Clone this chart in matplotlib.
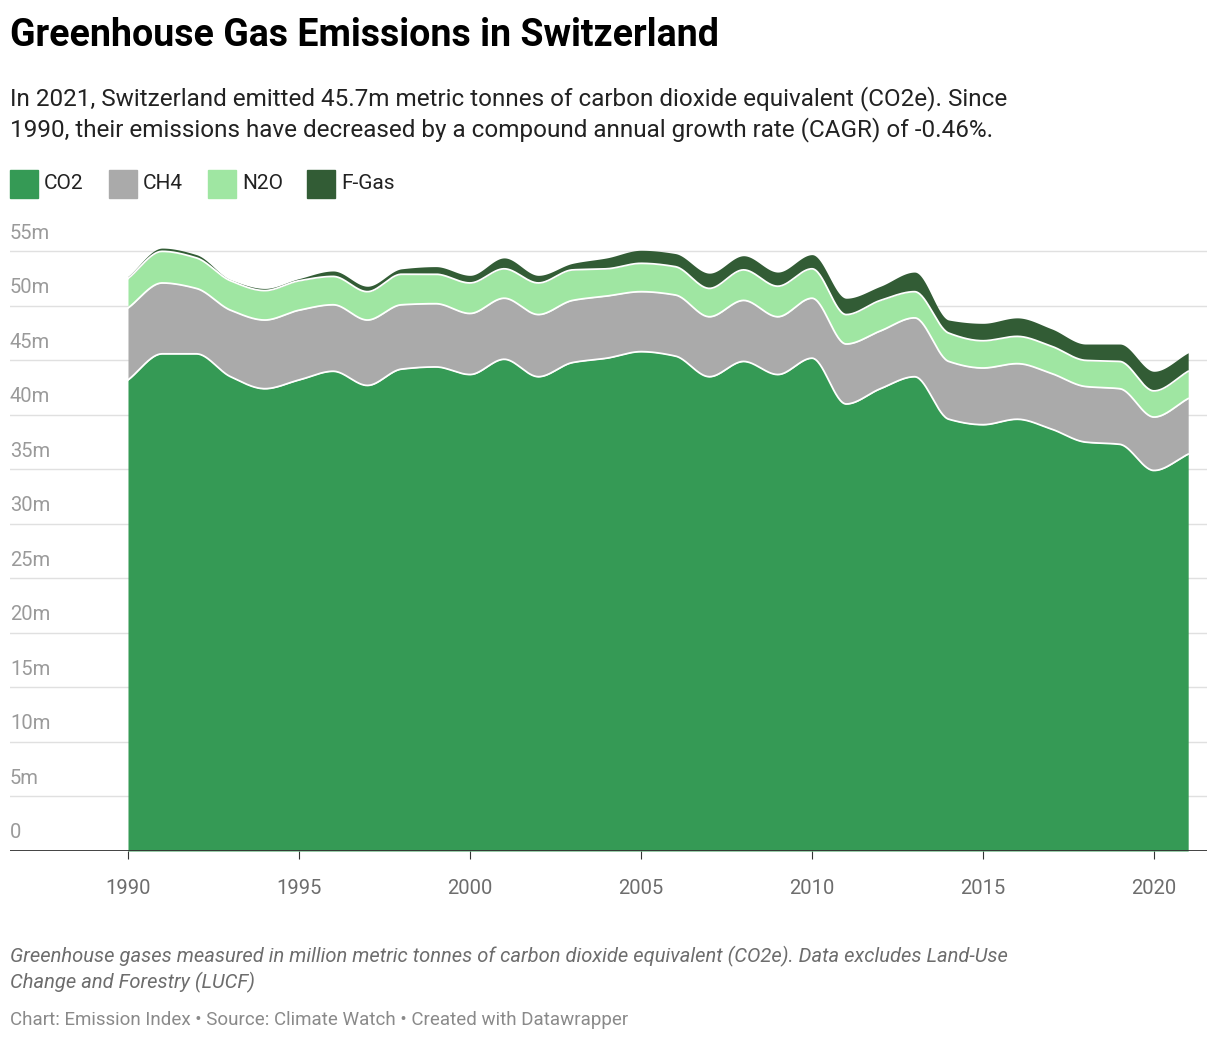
import numpy as np
import matplotlib
matplotlib.use("Agg")
import matplotlib.pyplot as plt

years = list(range(1990, 2022))
co2_top = [43.2,45.6,45.6,43.5,42.4,43.2,44.0,42.7,44.2,44.4,43.7,45.1,43.5,44.8,45.2,45.8,45.4,43.5,44.9,43.7,45.2,41.0,42.4,43.5,39.6,39.1,39.6,38.7,37.5,37.3,34.9,36.4]
ch4_top = [49.8,52.1,51.6,49.6,48.7,49.6,50.1,48.7,50.1,50.2,49.3,50.7,49.2,50.5,50.9,51.3,51.0,49.0,50.5,49.0,50.7,46.5,47.7,48.9,44.9,44.3,44.7,43.8,42.6,42.4,39.8,41.5]
n2o_top = [52.5,55.0,54.4,52.3,51.4,52.3,52.7,51.3,52.9,52.9,52.1,53.4,52.1,53.3,53.4,53.9,53.6,51.6,53.3,51.8,53.4,49.2,50.5,51.3,47.5,46.8,47.2,46.3,45.0,44.9,42.2,44.0]
fgas_top = [52.7,55.3,54.7,52.4,51.6,52.5,53.2,51.8,53.4,53.6,52.8,54.4,52.8,53.9,54.4,55.1,54.8,53.0,54.6,53.1,54.7,50.7,51.8,53.1,48.7,48.4,48.9,47.9,46.5,46.5,44.0,45.7]
co2 = np.array(co2_top)
ch4 = np.array(ch4_top) - co2
n2o = np.array(n2o_top) - np.array(ch4_top)
fgas = np.array(fgas_top) - np.array(n2o_top)
names = ["CO2", "CH4", "N2O", "F-Gas"]
colors = ["#359a55", "#aaaaaa", "#9fe6a2", "#325c35"]

def monotone(x, y, xs):
    x = np.asarray(x, float); y = np.asarray(y, float)
    h = np.diff(x); d = np.diff(y) / h
    m = np.zeros_like(y)
    m[0], m[-1] = d[0], d[-1]
    for i in range(1, len(y) - 1):
        if d[i-1] * d[i] > 0:
            m[i] = 3 * (h[i-1] + h[i]) / ((2*h[i] + h[i-1]) / d[i-1] + (h[i] + 2*h[i-1]) / d[i])
    idx = np.clip(np.searchsorted(x, xs) - 1, 0, len(x) - 2)
    t = (xs - x[idx]) / h[idx]
    h00 = 2*t**3 - 3*t**2 + 1; h10 = t**3 - 2*t**2 + t
    h01 = -2*t**3 + 3*t**2; h11 = t**3 - t**2
    return h00*y[idx] + h10*h[idx]*m[idx] + h01*y[idx+1] + h11*h[idx]*m[idx+1]

plt.rcParams['font.family'] = ['Roboto', 'DejaVu Sans']
fig = plt.figure(figsize=(12.2, 10.44), dpi=100)
W, H = 1220, 1044
ax = fig.add_axes([10/W, 1 - 851/H, 1197/W, (851-235)/H])

xs = np.linspace(1990, 2021, 1000)
tops = [co2_top, ch4_top, n2o_top, fgas_top]
prev = np.zeros_like(xs)
for t, c in zip(tops, colors):
    cur = monotone(years, t, xs)
    ax.fill_between(xs, prev, cur, color=c, lw=0, zorder=2)
    if c != colors[-1]:
        ax.plot(xs, cur, color="white", lw=1.3, zorder=3)
    prev = cur

ax.set_xlim(1986.55, 2021.55)
ax.set_ylim(0, 56.5)
for v in range(0, 60, 5):
    if v > 0:
        ax.axhline(v, color="#e0e0e0", lw=1, zorder=1)
    ax.text(1986.55, v + 0.8, "0" if v == 0 else f"{v}m", color="#9a9a9a", fontsize=14.5, va="bottom", ha="left")
ax.axhline(0, color="#333333", lw=1.3, zorder=4)
for s in ax.spines.values():
    s.set_visible(False)
ax.set_yticks([])
ax.set_xticks(range(1990, 2021, 5))
ax.tick_params(axis='x', length=6, color="#333333", labelsize=14.5, labelcolor="#6d6d6d", pad=14)

fig.text(10/W, 1 - 36/H, "Greenhouse Gas Emissions in Switzerland", fontsize=27, fontweight="bold", va="center")
fig.text(10/W, 1 - 114/H, "In 2021, Switzerland emitted 45.7m metric tonnes of carbon dioxide equivalent (CO2e). Since\n1990, their emissions have decreased by a compound annual growth rate (CAGR) of -0.46%.",
         fontsize=17.5, va="center", color="#222222", linespacing=1.35)
x = 10
for n, c in zip(names, colors):
    fig.patches.append(matplotlib.patches.Rectangle((x/W, 1-198/H), 28/W, 28/H, transform=fig.transFigure, color=c))
    fig.text((x+34)/W, 1-184/H, n, fontsize=15, va="center", color="#222222")
    x += 34 + len(n)*13 + 26 if n != "CO2" else 34 + 65
fig.text(10/W, 1 - 969/H, "Greenhouse gases measured in million metric tonnes of carbon dioxide equivalent (CO2e). Data excludes Land-Use\nChange and Forestry (LUCF)",
         fontsize=14.5, style="italic", color="#6d6d6d", va="center", linespacing=1.3)
fig.text(10/W, 1 - 1020/H, "Chart: Emission Index • Source: Climate Watch • Created with Datawrapper", fontsize=13.5, color="#8a8a8a", va="center")
fig.savefig("out.png", dpi=100)
